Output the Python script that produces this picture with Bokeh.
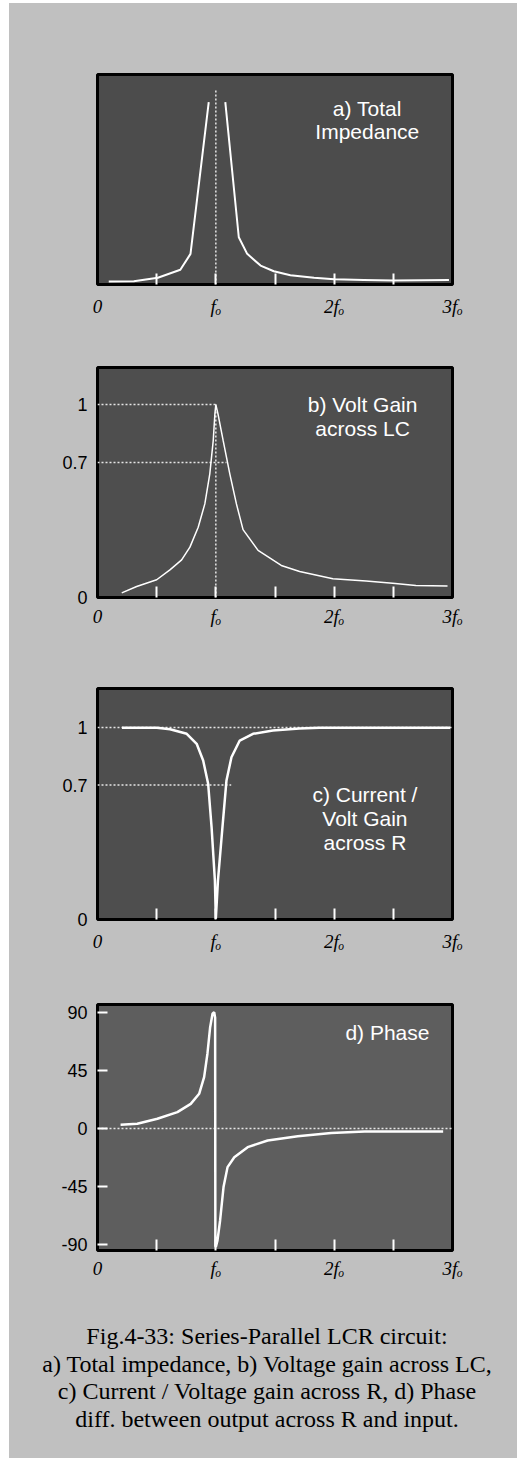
from bokeh.plotting import figure
from bokeh.models import FixedTicker, Label, Range1d, Div
from bokeh.layouts import column
from bokeh.embed import file_html
from bokeh.resources import INLINE

# ---------------- data (x in units of f0) ----------------
x_tick_vals = [0, 1, 2, 3]
x_tick_labels = ["0", "fₒ", "2fₒ", "3fₒ"]
x_minor_ticks = [0.5, 1, 1.5, 2, 2.5]

# a) total impedance (relative, two branches around resonance)
imp_lo_x = [0.095, 0.307, 0.51, 0.70, 0.786, 0.94]
imp_lo_y = [0.014, 0.016, 0.032, 0.070, 0.146, 0.868]
imp_hi_x = [1.08, 1.194, 1.265, 1.378, 1.49, 1.63, 1.83, 2.0, 2.25, 2.5, 2.97]
imp_hi_y = [0.868, 0.225, 0.146, 0.090, 0.063, 0.044, 0.032, 0.025, 0.022, 0.019, 0.022]

# b) voltage gain across LC
gain_lc_x = [0.205, 0.331, 0.50, 0.612, 0.711, 0.781, 0.851, 0.907, 0.949, 0.978, 0.992, 1.0,
             1.018, 1.062, 1.118, 1.174, 1.23, 1.357, 1.553, 1.708, 1.989, 2.27, 2.494, 2.69, 2.958]
gain_lc_y = [0.024, 0.057, 0.092, 0.143, 0.195, 0.261, 0.364, 0.485, 0.641, 0.813, 0.952, 1.0,
             0.952, 0.813, 0.641, 0.485, 0.352, 0.244, 0.166, 0.135, 0.097, 0.085, 0.074, 0.062, 0.059]
gain_ticks = [0, 0.7, 1]
gain_tick_labels = ["0", "0.7", "1"]

# c) current / voltage gain across R
gain_r_x = [0.207, 0.502, 0.613, 0.754, 0.838, 0.893, 0.935, 0.964, 0.992, 1.0, 1.018, 1.056,
            1.09, 1.132, 1.202, 1.314, 1.482, 1.706, 1.874, 2.98]
gain_r_y = [0.998, 0.998, 0.991, 0.967, 0.915, 0.828, 0.707, 0.481, 0.203, 0.004, 0.203, 0.481,
            0.724, 0.845, 0.932, 0.967, 0.984, 0.995, 0.998, 0.998]

# d) phase (degrees)
phase_x = [0.195, 0.336, 0.506, 0.675, 0.788, 0.859, 0.901, 0.929, 0.952, 0.972, 0.986, 0.994,
           0.996, 1.0, 1.014, 1.036, 1.065, 1.099, 1.156, 1.269, 1.438, 1.692, 1.975, 2.257, 2.921]
phase_y = [2.9, 3.6, 7.5, 12.7, 19.1, 26.9, 39.8, 58, 78.6, 89, 90.2, 86,
           -91, -92, -86.9, -71.4, -45.5, -30, -22.3, -14.5, -9.3, -6, -3.6, -2.3, -2.3]
phase_ticks = [-90, -45, 0, 45, 90]
phase_tick_labels = ["-90", "-45", "0", "45", "90"]

caption_lines = [
    "Fig.4-33: Series-Parallel LCR circuit:",
    "a) Total impedance, b) Voltage gain across LC,",
    "c) Current / Voltage gain across R, d) Phase",
    "diff. between output across R and input.",
]

# ---------------- style ----------------
OUTER = "#c0c0c0"
W = 506
LEFT, RIGHT = 88, 63
SANS = "Liberation Sans"
SERIF = "Liberation Serif"
DOT = dict(line_color="#e6e6e6", line_width=1.5, line_dash="2 2")


def make_panel(h, top, bottom, yr, bg, standoff):
    p = figure(width=W, height=h, x_range=Range1d(0, 3), y_range=Range1d(*yr),
               output_backend="svg", toolbar_location=None,
               min_border_left=LEFT, min_border_right=RIGHT,
               min_border_top=top, min_border_bottom=bottom,
               background_fill_color=bg, border_fill_color=OUTER,
               outline_line_color="black", outline_line_width=3)
    p.grid.visible = False
    xa = p.xaxis[0]
    xa.ticker = FixedTicker(ticks=x_tick_vals, minor_ticks=x_minor_ticks)
    xa.major_label_overrides = {t: l for t, l in zip(x_tick_vals, x_tick_labels)}
    xa.axis_line_color = None
    xa.major_tick_in = 0
    xa.major_tick_out = 0
    xa.minor_tick_in = 11
    xa.minor_tick_out = 0
    xa.minor_tick_line_color = "white"
    xa.minor_tick_line_width = 2
    xa.major_label_text_font = SERIF
    xa.major_label_text_font_style = "italic"
    xa.major_label_text_font_size = "19px"
    xa.major_label_text_color = "black"
    xa.major_label_standoff = standoff
    ya = p.yaxis[0]
    ya.axis_line_color = None
    ya.major_tick_out = 0
    ya.minor_tick_in = 0
    ya.minor_tick_out = 0
    ya.major_label_text_font = SANS
    ya.major_label_text_font_size = "18px"
    ya.major_label_text_color = "black"
    ya.major_label_standoff = 10
    return p


def panel_text(p, x, y, text):
    p.add_layout(Label(x=x, y=y, text=text, text_align="center", text_baseline="middle",
                       text_color="white", text_font=SANS, text_font_size="21px",
                       text_line_height=1.03))


# a) total impedance
pa = make_panel(327, 71, 46, (0, 1), "#4c4c4c", 11)
pa.yaxis.visible = False
pa.segment(x0=[x_tick_vals[1]], y0=[0], x1=[x_tick_vals[1]], y1=[0.933], **DOT)
pa.line(imp_lo_x, imp_lo_y, line_color="white", line_width=2)
pa.line(imp_hi_x, imp_hi_y, line_color="white", line_width=2)
panel_text(pa, 2.28, 0.783, "a) Total\nImpedance")

# b) voltage gain across LC
pb = make_panel(315, 37, 48, (0, 1.192), "#4e4e4e", 8)
pb.yaxis[0].ticker = FixedTicker(ticks=gain_ticks)
pb.yaxis[0].major_label_overrides = {t: l for t, l in zip(gain_ticks, gain_tick_labels)}
pb.yaxis[0].major_tick_in = 0
pb.segment(x0=[0, 0, 1], y0=[1, 0.7, 0], x1=[1, 1.09, 1], y1=[1, 0.7, 1], **DOT)
pb.line(gain_lc_x, gain_lc_y, line_color="white", line_width=1.5)
panel_text(pb, 2.24, 0.938, "b) Volt Gain\nacross LC")

# c) current / volt gain across R
pc = make_panel(320, 43, 46, (0, 1.203), "#4e4e4e", 11)
pc.yaxis[0].ticker = FixedTicker(ticks=gain_ticks)
pc.yaxis[0].major_label_overrides = {t: l for t, l in zip(gain_ticks, gain_tick_labels)}
pc.yaxis[0].major_tick_in = 0
pc.segment(x0=[0, 0], y0=[1, 0.7], x1=[3, 1.13], y1=[1, 0.7], **DOT)
pc.line(gain_r_x, gain_r_y, line_color="white", line_width=2.5)
panel_text(pc, 2.26, 0.526, "c) Current /\nVolt Gain\nacross R")

# d) phase
pd = make_panel(325, 39, 40, (-94.7, 96.2), "#5e5e5e", 7)
pd.yaxis[0].ticker = FixedTicker(ticks=phase_ticks)
pd.yaxis[0].major_label_overrides = {t: l for t, l in zip(phase_ticks, phase_tick_labels)}
pd.yaxis[0].major_tick_in = 10
pd.yaxis[0].major_tick_line_color = "white"
pd.yaxis[0].major_tick_line_width = 2
pd.segment(x0=[0], y0=[0], x1=[3], y1=[0], **DOT)
pd.line(phase_x, phase_y, line_color="white", line_width=2.5)
panel_text(pd, 2.45, 74.5, "d) Phase")

# caption
cap = Div(text='<div style="padding-top:28px">' + "<br>".join(caption_lines) + "</div>",
          width=W, height=162,
          styles={"font-family": SERIF, "font-size": "24px", "line-height": "27.7px",
                  "text-align": "center", "color": "black", "background-color": OUTER})

layout = column(pa, pb, pc, pd, cap, spacing=0, margin=(3, 0, 0, 9),
                styles={"background-color": OUTER})
open("out.html", "w").write(file_html(layout, INLINE))
